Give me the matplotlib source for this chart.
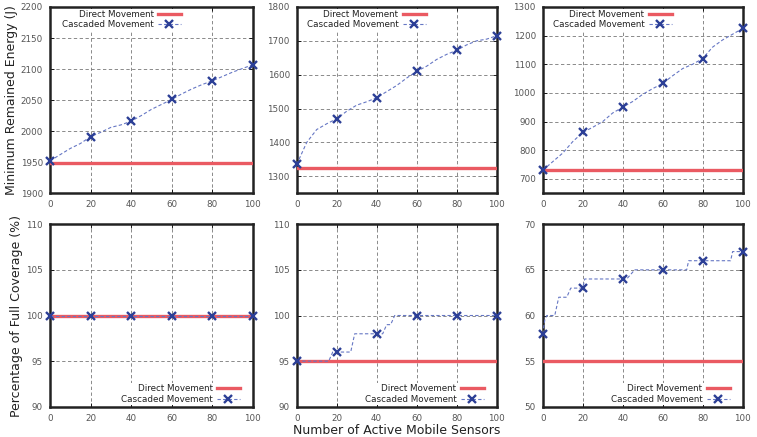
import matplotlib
matplotlib.use("Agg")
import matplotlib.pyplot as plt
from matplotlib.lines import Line2D

# x positions
x_fine = [0, 5, 10, 15, 20, 25, 30, 35, 40, 45, 50, 55, 60, 65, 70, 75, 80, 85, 90, 95, 100]
x_marks = [0, 20, 40, 60, 80, 100]

# Minimum remained energy (J)
energy_a = [1952, 1962, 1972, 1980, 1991, 1998, 2006, 2010, 2016, 2025, 2035, 2043,
            2051, 2060, 2068, 2075, 2081, 2088, 2095, 2101, 2107]
energy_b = [1335, 1400, 1438, 1455, 1470, 1492, 1510, 1520, 1532, 1550, 1568, 1590,
            1610, 1625, 1645, 1660, 1672, 1688, 1700, 1705, 1715]
energy_c = [730, 760, 790, 830, 862, 880, 900, 930, 950, 970, 995, 1015,
            1033, 1060, 1085, 1100, 1120, 1160, 1185, 1205, 1225]
energy_marks = [[1952, 1991, 2016, 2051, 2081, 2107],
                [1335, 1470, 1532, 1610, 1672, 1715],
                [730, 862, 950, 1033, 1120, 1225]]
energy_direct = [1948, 1323, 730]

# Percentage of full coverage (%)
cov_a_x = [0, 100]
cov_a_y = [100, 100]
cov_b_x = [0, 16, 18, 27, 29, 43, 45, 47, 49, 100]
cov_b_y = [95, 95, 96, 96, 98, 98, 99, 99, 100, 100]
cov_c_x = [0, 1, 2, 6, 8, 12, 14, 20, 21, 40, 42, 46, 60, 72, 73, 80, 94, 95, 100]
cov_c_y = [58, 59.5, 60, 60, 62, 62, 63, 63, 64, 64, 64, 65, 65, 65, 66, 66, 66, 67, 67]
cov_marks = [[100, 100, 100, 100, 100, 100],
             [95, 96, 98, 100, 100, 100],
             [58, 63, 64, 65, 66, 67]]
cov_direct = [100, 95, 55]

energy_ylims = [(1900, 2200), (1250, 1800), (650, 1300)]
energy_ticks = [range(1900, 2201, 50), range(1300, 1801, 100), range(700, 1301, 100)]
cov_ylims = [(90, 110), (90, 110), (50, 70)]
cov_ticks = [range(90, 111, 5), range(90, 111, 5), range(50, 71, 5)]

RED = "#ea5a62"
BLUE_LINE = "#6677c4"
BLUE_MARK = "#2c3f96"

fig = plt.figure(figsize=(7.57, 4.37), dpi=100)
lefts = [0.066, 0.392, 0.717]
widths = [0.268, 0.264, 0.264]

top_series = [(x_fine, energy_a), (x_fine, energy_b), (x_fine, energy_c)]
bot_series = [(cov_a_x, cov_a_y), (cov_b_x, cov_b_y), (cov_c_x, cov_c_y)]


def style_axes(ax, ylim, yticks):
    ax.set_xlim(0, 100)
    ax.set_ylim(*ylim)
    ax.set_xticks(x_marks)
    ax.set_yticks(list(yticks))
    ax.tick_params(direction="in", top=True, right=True, labelsize=6.3,
                   labelcolor="#555555", length=3, width=0.6, pad=5)
    ax.grid(True, linestyle=(0, (4, 3)), color="#777777", linewidth=0.6)
    for s in ax.spines.values():
        s.set_linewidth(1.8)
        s.set_color("#222222")


def legend(ax, loc, anchor):
    handles = [Line2D([], [], color=RED, lw=2.4),
               Line2D([], [], color=BLUE_LINE, lw=0.8, ls=(0, (3, 2)),
                      marker="x", markersize=6, mew=1.7, mec=BLUE_MARK)]
    lg = ax.legend(handles, ["Direct Movement", "Cascaded Movement"], loc=loc,
                   bbox_to_anchor=anchor, markerfirst=False, fontsize=6.3,
                   frameon=True, framealpha=1, edgecolor="white", fancybox=False,
                   handlelength=2.6, borderpad=0.15, labelspacing=0.15,
                   handletextpad=0.5, borderaxespad=0.2)
    lg.get_frame().set_linewidth(0)
    for t in lg.get_texts():
        t.set_color("#222222")


for i in range(3):
    # top row: energy
    ax = fig.add_axes([lefts[i], 0.558, widths[i], 0.426])
    style_axes(ax, energy_ylims[i], energy_ticks[i])
    ax.axhline(energy_direct[i], color=RED, lw=2.4, zorder=3)
    xs, ys = top_series[i]
    ax.plot(xs, ys, color=BLUE_LINE, lw=0.8, ls=(0, (3, 2)), zorder=4)
    ax.plot(x_marks, energy_marks[i], ls="none", marker="x", markersize=6,
            mew=1.7, color=BLUE_MARK, zorder=5, clip_on=False)
    legend(ax, "upper right", (0.66, 1.0))
    if i == 0:
        ax.set_ylabel("Minimum Remained Energy (J)", fontsize=9, color="#222222", labelpad=2)

    # bottom row: coverage
    ax = fig.add_axes([lefts[i], 0.069, widths[i], 0.418])
    style_axes(ax, cov_ylims[i], cov_ticks[i])
    ax.axhline(cov_direct[i], color=RED, lw=2.4, zorder=3)
    xs, ys = bot_series[i]
    ax.plot(xs, ys, color=BLUE_LINE, lw=0.8, ls=(0, (3, 2)), zorder=4)
    ax.plot(x_marks, cov_marks[i], ls="none", marker="x", markersize=6,
            mew=1.7, color=BLUE_MARK, zorder=5, clip_on=False)
    legend(ax, "lower right", (0.95, 0.0))
    if i == 0:
        ax.set_ylabel("Percentage of Full Coverage (%)", fontsize=9, color="#222222", labelpad=2)
    if i == 1:
        ax.set_xlabel("Number of Active Mobile Sensors", fontsize=9, color="#222222", labelpad=1)

fig.savefig("out.png", dpi=100)
